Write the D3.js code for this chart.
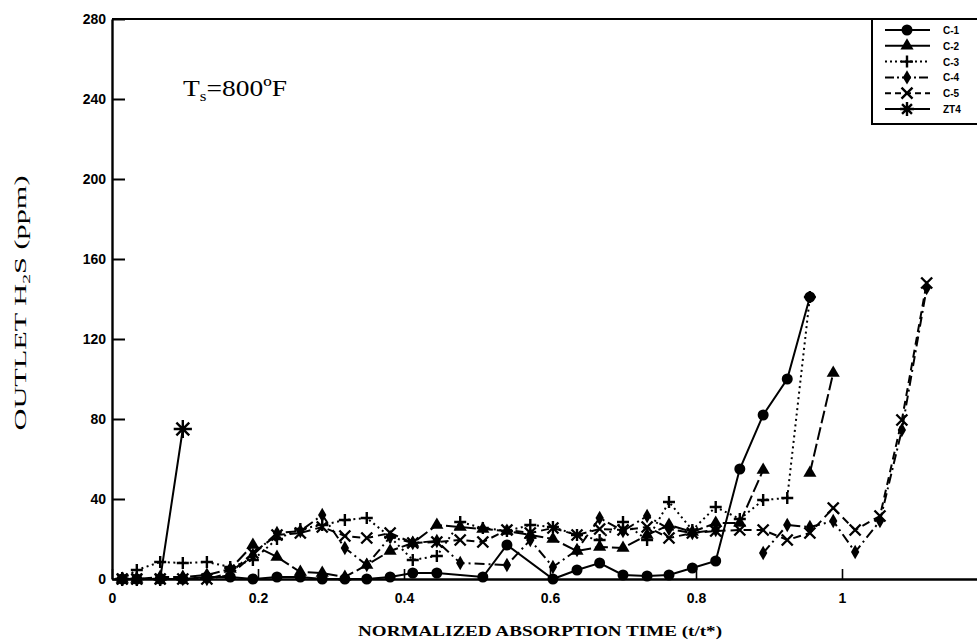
<!DOCTYPE html>
<html><head><meta charset="utf-8">
<script src="https://cdn.jsdelivr.net/npm/d3@7"></script>
<style>
html,body{margin:0;padding:0;background:#fff;}
svg{display:block;}
</style></head>
<body>
<svg id="chart" width="977" height="643"></svg>
<script>
// ---- data ----
const seriesNames = ["C-1","C-2","C-3","C-4","C-5","ZT4"];
const xTickValues = [0, 0.2, 0.4, 0.6, 0.8, 1];
const xTickLabels = ["0","0.2","0.4","0.6","0.8","1"];
const yTickValues = [0, 40, 80, 120, 160, 200, 240, 280];
const yTickLabels = ["0","40","80","120","160","200","240","280"];

const c1T = [0.014,0.034,0.066,0.097,0.130,0.162,0.193,0.226,0.258,0.288,0.319,0.349,0.381,0.412,0.445,0.508,0.541,0.604,0.637,0.668,0.700,0.733,0.763,0.795,0.827,0.860,0.892,0.925,0.956];
const c1V = [0,0,0,0,1,1,0,1,1,0,0,0,1,3,3,1,17,0,4.5,8,2,1.5,2,5.5,9,55,82,100,141];

const c2T = [0.014,0.034,0.066,0.097,0.130,0.162,0.193,0.226,0.258,0.288,0.319,0.349,0.381,0.412,0.445,0.477,0.508,0.541,0.573,0.604,0.637,0.668,0.700,0.733,0.763,0.795,0.827,0.860,0.892,0.925,0.956,0.988];
const c2V = [0,0,1,1,2,5,17,11,3.5,3,1,7,14,18,27,26,25,24,22,20,14,16,15.5,22,27,23.5,28,28,54.5,null,53,103];

const c3T = [0.014,0.034,0.066,0.097,0.130,0.162,0.193,0.226,0.258,0.288,0.319,0.349,0.381,0.412,0.445,0.477,0.508,0.541,0.573,0.604,0.637,0.668,0.700,0.733,0.763,0.795,0.827,0.860,0.892,0.925,0.956];
const c3V = [0,4.5,8.5,8,8.5,6,9.5,20,25,27,29.5,30.5,21,9.5,11.5,28.5,25.5,24,27,26,22,19.5,28.5,19.5,38.5,24.5,36,30,39.5,40.5,141];

const c4T = [0.014,0.034,0.066,0.097,0.130,0.162,0.193,0.226,0.258,0.288,0.319,0.349,0.381,0.412,0.445,0.477,0.541,0.573,0.604,0.637,0.668,0.700,0.733,0.763,0.795,0.827,0.860,0.892,0.925,0.956,0.988,1.018,1.052,1.082,1.116];
const c4V = [0,0,0,0,0,2,12,23,24,32,15.5,7,21,18,19,8,7,19.5,6,14.5,30.5,24,31.5,25,23,24.5,null,13,27,26,29,13.5,29,74.5,145.5];

const c5T = [0.014,0.034,0.066,0.097,0.130,0.162,0.193,0.226,0.258,0.288,0.319,0.349,0.381,0.412,0.445,0.477,0.508,0.541,0.573,0.604,0.637,0.668,0.700,0.733,0.763,0.795,0.827,0.860,0.892,0.925,0.956,0.988,1.018,1.052,1.082,1.116];
const c5V = [0,0,0,0,0,3,13,22,23,26,21.5,20.5,23,18,18.5,19.5,18.5,24.5,23,25.5,22,25,24.5,26,20.5,23,24,24.5,24.5,19.5,23,35.5,24.5,31.5,79.5,148];

const zt4T = [0.014,0.034,0.066,0.097];
const zt4V = [0,0,0,75];

const seriesT = [c1T,c2T,c3T,c4T,c5T,zt4T];
const seriesV = [c1V,c2V,c3V,c4V,c5V,zt4V];
const seriesMarker = ["circle","triangle","plus","diamond","cross","asterisk"];
const seriesDash = [null,"13,4","2,3.5","10,4,2,4","8,5",null];
const legendDash = [null,null,"2,3","9,3,2,3","6,4",null];

(function(){
const svg = d3.select("#chart");
const mL = 112, mR = 988, mT = 19, mB = 579;
const x = d3.scaleLinear().domain([0,1.2]).range([mL,mR]);
const y = d3.scaleLinear().domain([0,280]).range([mB,mT]);

svg.append("line").attr("x1",mL).attr("x2",977).attr("y1",mT).attr("y2",mT)
  .attr("stroke","#000").attr("stroke-width",2);

const yAxis = d3.axisLeft(y).tickValues(yTickValues)
  .tickFormat((d,i)=>yTickLabels[i]).tickSizeInner(-13).tickSizeOuter(0).tickPadding(6);
const gy = svg.append("g").attr("transform",`translate(${mL},0)`).call(yAxis);
gy.select(".domain").attr("stroke-width",2.4);
gy.selectAll(".tick line").attr("stroke-width",2);
gy.selectAll(".tick text").attr("x",-6)
  .style("font-family","'Liberation Sans',Arial,sans-serif").style("font-weight","bold").style("font-size","14px");

const xAxis = d3.axisBottom(x).tickValues(xTickValues)
  .tickFormat((d,i)=>xTickLabels[i]).tickSizeInner(-10).tickSizeOuter(0).tickPadding(6);
const gx = svg.append("g").attr("transform",`translate(0,${mB})`).call(xAxis);
gx.select(".domain").attr("stroke-width",2.4);
gx.selectAll(".tick line").attr("stroke-width",1.6);
gx.selectAll(".tick text").attr("y",14)
  .style("font-family","'Liberation Sans',Arial,sans-serif").style("font-weight","bold").style("font-size","14px");

const yt = svg.append("text").attr("transform","translate(26,303) rotate(-90)")
  .attr("text-anchor","middle").attr("textLength",255).attr("lengthAdjust","spacingAndGlyphs")
  .style("font-family","'Liberation Serif','Times New Roman',serif").style("font-size","17px");
yt.append("tspan").text("OUTLET  H");
yt.append("tspan").attr("dy",4).style("font-size","11px").text("2");
yt.append("tspan").attr("dy",-4).text("S (ppm)");

svg.append("text").attr("x",540).attr("y",636).attr("text-anchor","middle")
  .attr("textLength",364).attr("lengthAdjust","spacingAndGlyphs")
  .style("font-family","'Liberation Serif','Times New Roman',serif").style("font-size","14px")
  .style("font-weight","bold")
  .text("NORMALIZED  ABSORPTION  TIME (t/t*)");

const an = svg.append("text").attr("x",183).attr("y",96)
  .attr("textLength",104).attr("lengthAdjust","spacingAndGlyphs")
  .style("font-family","'Liberation Serif','Times New Roman',serif").style("font-size","24px");
an.append("tspan").text("T");
an.append("tspan").attr("dy",5).style("font-size","15px").text("s");
an.append("tspan").attr("dy",-5).text("=800ºF");

function drawMarker(g, type, cx, cy, s){
  s = s || 1;
  if(type==="circle"){
    g.append("circle").attr("cx",cx).attr("cy",cy).attr("r",5.5*s).attr("fill","#000");
  } else if(type==="triangle"){
    g.append("path").attr("d",d3.symbol(d3.symbolTriangle, 75*s*s)()).attr("transform",`translate(${cx},${cy})`).attr("fill","#000");
  } else if(type==="diamond"){
    g.append("path").attr("d",d3.symbol(d3.symbolDiamond, 60*s*s)()).attr("transform",`translate(${cx},${cy})`).attr("fill","#000");
  } else if(type==="plus"){
    const r=6*s;
    g.append("path").attr("d",`M${cx-r},${cy}H${cx+r}M${cx},${cy-r}V${cy+r}`).attr("stroke","#000").attr("stroke-width",2.4);
  } else if(type==="cross"){
    const r=5.5*s;
    g.append("path").attr("d",`M${cx-r},${cy-r}L${cx+r},${cy+r}M${cx-r},${cy+r}L${cx+r},${cy-r}`).attr("stroke","#000").attr("stroke-width",2.4);
  } else if(type==="asterisk"){
    const r=7*s, q=r*0.707;
    g.append("path").attr("d",`M${cx-r},${cy}H${cx+r}M${cx},${cy-r}V${cy+r}M${cx-q},${cy-q}L${cx+q},${cy+q}M${cx-q},${cy+q}L${cx+q},${cy-q}`)
      .attr("stroke","#000").attr("stroke-width",2.4);
  }
}

const plot = svg.append("g");
seriesNames.forEach((name,i)=>{
  const pts = seriesT[i].map((t,j)=>({t:t, v:seriesV[i][j]}));
  const line = d3.line().defined(d=>d.v!==null).x(d=>x(d.t)).y(d=>y(d.v));
  const p = plot.append("path").datum(pts).attr("d",line)
    .attr("fill","none").attr("stroke","#000").attr("stroke-width",2);
  if(seriesDash[i]) p.attr("stroke-dasharray",seriesDash[i]);
});
seriesNames.forEach((name,i)=>{
  const g = plot.append("g");
  seriesT[i].forEach((t,j)=>{
    const v = seriesV[i][j];
    if(v===null) return;
    const big = (name==="ZT4" && v>0) ? 1.3 : 1;
    drawMarker(g, seriesMarker[i], x(t), y(v), big);
  });
});

const lg = svg.append("g");
lg.append("path").attr("d","M872,19V124H977").attr("fill","none").attr("stroke","#000").attr("stroke-width",2);
seriesNames.forEach((name,i)=>{
  const ly = 30 + i*15.8;
  const l = lg.append("line").attr("x1",885).attr("x2",930).attr("y1",ly).attr("y2",ly)
    .attr("stroke","#000").attr("stroke-width",2);
  if(legendDash[i]) l.attr("stroke-dasharray", legendDash[i]);
  drawMarker(lg, seriesMarker[i], 907, ly, 1);
  lg.append("text").attr("x",943).attr("y",ly+4).text(name)
    .style("font-family","'Liberation Sans',Arial,sans-serif").style("font-weight","bold").style("font-size","10px");
});
})();
</script>
</body></html>
